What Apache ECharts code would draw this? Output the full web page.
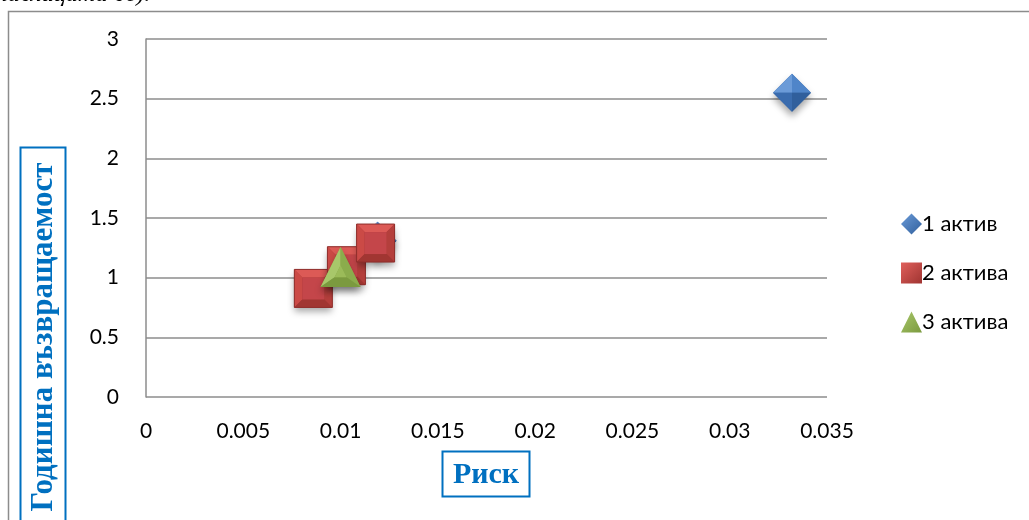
<!DOCTYPE html>
<html>
<head>
<meta charset="utf-8">
<script src="https://cdn.jsdelivr.net/npm/echarts@6/dist/echarts.min.js"></script>
<style>
  html, body { margin: 0; padding: 0; background: #fff; }
  #chart { width: 1029px; height: 520px; }
</style>
</head>
<body>
<div id="chart"></div>
<script>
// Risk (x) vs annual return (y) for portfolios of 1, 2 and 3 assets
const seriesNames = ['1 актив', '2 актива', '3 актива'];
const oneAsset = [[0.0119, 1.31], [0.0332, 2.55]];
const twoAssets = [[0.0086, 0.91], [0.0103, 1.10], [0.0118, 1.29]];
const threeAssets = [[0.0100, 1.09]];
const xTitle = 'Риск';
const yTitle = 'Годишна възвращаемост';
const headText = 'таблицата бе).';

const chart = echarts.init(document.getElementById('chart'), null, { renderer: 'canvas' });

// Bevelled marker palettes: [outer base, facet1, facet2, facet3, facet4, face]
const palettes = {
  diamond: ['#3e6eab', '#6b9bd8', '#4f85c9', '#3a6cae', '#305f9c'],
  square: ['#a83a37', '#dc5a56', '#cb4a46', '#b43f3c', '#a13632', '#c4464a'],
  triangle: ['#86a54a', '#a8c76a', '#8bac4c', '#7b9a3f', '#9bbb59']
};
const shadow = { shadowBlur: 7, shadowOffsetY: 5, shadowColor: 'rgba(0,0,0,0.35)' };

function poly(points, fill, extra) {
  return { type: 'polygon', shape: { points: points }, style: Object.assign({ fill: fill }, extra || {}) };
}

function diamondItem(cx, cy) {
  const r = 19, p = palettes.diamond;
  const T = [cx, cy - r], R = [cx + r, cy], B = [cx, cy + r], L = [cx - r, cy], C = [cx, cy];
  return [
    poly([T, R, B, L], p[0], shadow),
    poly([L, T, C], p[1]),
    poly([T, R, C], p[2]),
    poly([L, B, C], p[3]),
    poly([B, R, C], p[4])
  ];
}

function squareItem(cx, cy) {
  const s = 19, i = 11, p = palettes.square;
  const o = [[cx - s, cy - s], [cx + s, cy - s], [cx + s, cy + s], [cx - s, cy + s]];
  const n = [[cx - i, cy - i], [cx + i, cy - i], [cx + i, cy + i], [cx - i, cy + i]];
  return [
    poly(o, p[0], shadow),
    poly([o[0], o[1], n[1], n[0]], p[1]),
    poly([o[0], n[0], n[3], o[3]], p[2]),
    poly([o[1], o[2], n[2], n[1]], p[3]),
    poly([o[3], n[3], n[2], o[2]], p[4]),
    poly(n, p[5]),
    { type: 'rect', shape: { x: cx - s, y: cy - s, width: 2 * s, height: 2 * s },
      style: { fill: null, stroke: '#8f2e2b', lineWidth: 1 } }
  ];
}

function triangleItem(cx, cy) {
  const h = 20, p = palettes.triangle;
  const A = [cx, cy - h], BL = [cx - h, cy + h], BR = [cx + h, cy + h];
  const ci = [cx, cy + 6], k = 0.3;
  const a = [ci[0] + (A[0] - ci[0]) * k, ci[1] + (A[1] - ci[1]) * k];
  const bl = [ci[0] + (BL[0] - ci[0]) * k, ci[1] + (BL[1] - ci[1]) * k];
  const br = [ci[0] + (BR[0] - ci[0]) * k, ci[1] + (BR[1] - ci[1]) * k];
  return [
    poly([A, BL, BR], p[0], shadow),
    poly([A, BL, bl, a], p[1]),
    poly([A, a, br, BR], p[2]),
    poly([BL, BR, br, bl], p[3]),
    poly([a, bl, br], p[4])
  ];
}

const builders = [diamondItem, squareItem, triangleItem];

function renderMarker(params, api) {
  const pt = api.coord([api.value(0), api.value(1)]);
  return { type: 'group', children: builders[params.seriesIndex](pt[0], pt[1]) };
}

const tickFont = { fontFamily: 'Lato', fontSize: 21, color: '#000' };
const gridGray = '#8c8c8c';

function gradient(c1, c2) {
  return new echarts.graphic.LinearGradient(0, 0, 1, 1, [
    { offset: 0, color: c1 }, { offset: 1, color: c2 }
  ]);
}

const option = {
  backgroundColor: '#fff',
  animation: false,
  grid: { left: 146, right: 202, top: 39, bottom: 123 },
  xAxis: {
    type: 'value', min: 0, max: 0.035, interval: 0.005,
    axisLine: { show: false }, axisTick: { show: false },
    splitLine: { show: false },
    axisLabel: Object.assign({ margin: 24 }, tickFont)
  },
  yAxis: {
    type: 'value', min: 0, max: 3, interval: 0.5,
    axisLine: { show: true, lineStyle: { color: gridGray, width: 1.5 } },
    axisTick: { show: false },
    splitLine: { show: true, lineStyle: { color: gridGray, width: 1.5 } },
    axisLabel: Object.assign({ margin: 27 }, tickFont)
  },
  legend: {
    orient: 'vertical', left: 896, top: 208,
    itemWidth: 21, itemHeight: 21, itemGap: 27,
    textStyle: { fontFamily: 'Lato', fontSize: 22, color: '#000', padding: [0, 0, 0, -5] },
    data: [
      { name: seriesNames[0], icon: 'diamond', itemStyle: { color: gradient('#6b9bd8', '#305f9c') } },
      { name: seriesNames[1], icon: 'rect', itemStyle: { color: gradient('#e0605c', '#9f3431') } },
      { name: seriesNames[2], icon: 'triangle', itemStyle: { color: gradient('#a8c76a', '#7b9a3f') } }
    ]
  },
  series: [
    { name: seriesNames[0], type: 'custom', renderItem: renderMarker, data: oneAsset, itemStyle: { color: '#4f81bd' } },
    { name: seriesNames[1], type: 'custom', renderItem: renderMarker, data: twoAssets, itemStyle: { color: '#c0504d' } },
    { name: seriesNames[2], type: 'custom', renderItem: renderMarker, data: threeAssets, itemStyle: { color: '#9bbb59' } }
  ],
  graphic: [
    // chart frame
    { type: 'rect', shape: { x: 8.5, y: 11.5, width: 1040, height: 540 },
      style: { fill: null, stroke: '#8c8c8c', lineWidth: 1.5 }, z: 0, silent: true },
    // running text above the chart
    { type: 'text', left: -10, top: -17,
      style: { text: headText, font: 'italic 24px "Liberation Serif"', fill: '#000' } },
    // y-axis title box
    { type: 'rect', shape: { x: 20.5, y: 147.5, width: 45, height: 400 },
      style: { fill: '#fff', stroke: '#0070c0', lineWidth: 2 }, z: 10 },
    { type: 'text', x: 44, y: 337, rotation: Math.PI / 2, z: 11,
      style: { text: yTitle, font: 'bold 31px "Liberation Serif"', fill: '#0070c0',
        align: 'center', verticalAlign: 'middle' } },
    // x-axis title box
    { type: 'rect', shape: { x: 442.5, y: 451.5, width: 87, height: 45 },
      style: { fill: '#fff', stroke: '#0070c0', lineWidth: 2 }, z: 10 },
    { type: 'text', x: 486, y: 475, z: 11,
      style: { text: xTitle, font: 'bold 30px "Liberation Serif"', fill: '#0070c0',
        align: 'center', verticalAlign: 'middle' } }
  ]
};

chart.setOption(option);
</script>
</body>
</html>
